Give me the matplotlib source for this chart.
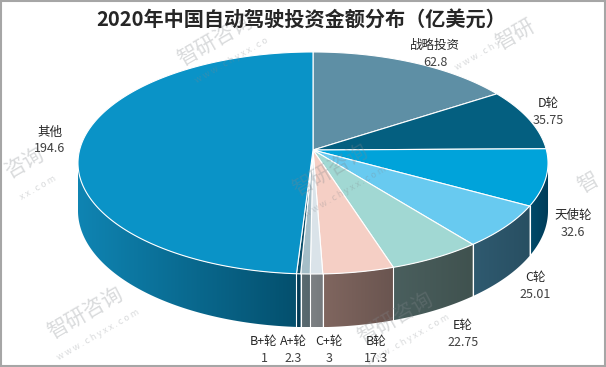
import numpy as np
import matplotlib
matplotlib.use('Agg')
import matplotlib.pyplot as plt
from matplotlib.patches import Polygon, Rectangle
from matplotlib.colors import to_rgb

plt.rcParams['font.family'] = ['Noto Sans CJK SC', 'DejaVu Sans']

title = '2020年中国自动驾驶投资金额分布（亿美元）'
labels = ['战略投资', 'D轮', '天使轮', 'C轮', 'E轮', 'B轮', 'C+轮', 'A+轮', 'B+轮', '其他']
values = [62.8, 35.75, 32.6, 25.01, 22.75, 17.3, 3, 2.3, 1, 194.6]

top_colors = ['#5e8fa5', '#045f80', '#00a3da', '#68caf0', '#a1d8d3',
              '#f5cfc5', '#dae3e9', '#a5bec8', '#0b4f6b', '#0a93c7']
# side wall gradient (left -> right)
wall_colors = [('#3f6a7c', '#3a6273'), ('#033f56', '#033a50'), ('#004a6a', '#003c58'),
               ('#2f5a70', '#284f62'), ('#4a5f5e', '#40524f'), ('#80665f', '#6a5550'),
               ('#7d8184', '#767a7d'), ('#5a6a70', '#56666c'), ('#053c55', '#053c55'),
               ('#0f84b2', '#04506e')]
# label centres in pixels (layout)
label_xy = [(435, 45), (548, 103), (573, 216), (535, 277), (463, 325),
            (376, 341), (329, 341), (293, 341), (264, 341), (50, 132)]

W, H = 606, 367
fig = plt.figure(figsize=(W / 100, H / 100), dpi=100)
ax = fig.add_axes([0, 0, 1, 1])

CX, CY, A, B, E, DEP = 313, 150, 233.4, 109.5, 0.117, 47


def proj(th, k=1.0, down=0.0):
    t = np.radians(th)
    X = k * np.sin(t)
    Y = k * np.cos(t)
    f = 1 / (1 + E * Y)
    return CX + A * X * f, CY - B * Y * f + DEP * f * down


tot = sum(values)
cum = np.concatenate([[0], np.cumsum(values)]) / tot * 360
vis_lo = np.degrees(np.arccos(-E))
vis_hi = 360 - vis_lo

# side walls
for i in range(len(values)):
    a0, a1 = max(cum[i], vis_lo), min(cum[i + 1], vis_hi)
    if a1 <= a0:
        continue
    th = np.linspace(a0, a1, 80)
    xt, yt = proj(th)
    xb, yb = proj(th[::-1], down=1)
    pts = np.column_stack([np.concatenate([xt, xb]), np.concatenate([yt, yb])])
    poly = Polygon(pts, closed=True, facecolor='none', edgecolor='none', zorder=2)
    ax.add_patch(poly)
    c0, c1 = np.array(to_rgb(wall_colors[i][0])), np.array(to_rgb(wall_colors[i][1]))
    s = np.linspace(0, 1, 64)[:, None]
    img = (c0 * (1 - s) + c1 * s)[None, :, :]
    im = ax.imshow(img, extent=[pts[:, 0].min(), pts[:, 0].max(), pts[:, 1].max(), pts[:, 1].min()],
                   aspect='auto', interpolation='bilinear', zorder=2)
    im.set_clip_path(poly)

for b in cum[1:-1]:
    if vis_lo < b < vis_hi:
        x0, y0 = proj(b)
        x1, y1 = proj(b, down=1)
        ax.plot([x0, x1], [y0, y1], color='white', lw=0.8, zorder=3)

# top face
for i in range(len(values)):
    th = np.linspace(cum[i], cum[i + 1], max(4, int((cum[i + 1] - cum[i]) * 2)))
    xa, ya = proj(th)
    pts = np.column_stack([np.concatenate([[CX], xa]), np.concatenate([[CY], ya])])
    ax.add_patch(Polygon(pts, closed=True, facecolor=top_colors[i], edgecolor='white',
                         lw=0.8, joinstyle='round', zorder=4))

# labels
for name, v, (x, y) in zip(labels, values, label_xy):
    ax.text(x, y, name, ha='center', va='center', fontsize=9, color='#262626', zorder=6)
    ax.text(x, y + 17, f'{v:g}', ha='center', va='center', fontsize=9, color='#404040', zorder=6)

# watermark (only the parts visible inside the frame)
wm_main = [('智研咨询', 215, 40), ('智研', 515, 35), ('咨询', 25, 163), ('智研咨询', 330, 170),
           ('智', 588, 183), ('智研咨询', 85, 313), ('智研咨询', 395, 318)]
wm_url = [('w w w . c h y x x . c o', 232, 60), ('w w w . c h y', 478, 55), ('x x . c o m', 38, 188),
          ('w w w . c h y x x . c o m', 345, 192), ('w w w . c h y x x . c o m', 98, 335),
          ('w w w . c h y x x . c o m', 408, 340)]
for s, x, y in wm_main:
    ax.text(x, y, s, rotation=30, ha='center', va='center', fontsize=15,
            color='#82878c', alpha=0.3, zorder=5)
for s, x, y in wm_url:
    ax.text(x, y, s, rotation=30, ha='center', va='center', fontsize=6.5,
            color='#82878c', alpha=0.3, zorder=5)

ax.text(301, 19, title, ha='center', va='center', fontsize=14.5, fontweight='bold',
        color='#262626', zorder=6)

ax.add_patch(Rectangle((0.75, 0.75), W - 1.5, H - 1.5, fill=False, edgecolor='#a6a6a6', lw=1.5, zorder=7))

ax.set_xlim(0, W)
ax.set_ylim(H, 0)
ax.axis('off')
fig.savefig('out.png', dpi=100)
